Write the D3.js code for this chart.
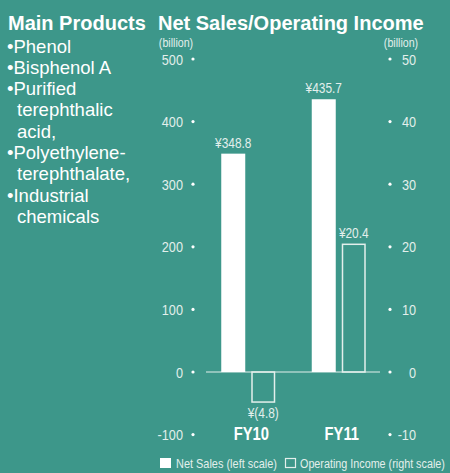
<!DOCTYPE html>
<html>
<head>
<meta charset="utf-8">
<script src="https://cdn.jsdelivr.net/npm/d3@7"></script>
<style>
  body { margin: 0; background: #3d978a; }
  svg { display: block; }
  text { font-family: "Liberation Sans", Arial, Helvetica, sans-serif; }
</style>
</head>
<body>
<svg id="fig" width="450" height="473"></svg>
<script>
// data
var categories = ["FY10", "FY11"];
var netSales = [348.8, 435.7];          // left scale, billion yen
var opIncome = [-4.8, 20.4];            // right scale, billion yen
var salesLabels = ["¥348.8", "¥435.7"];
var incomeLabels = ["¥(4.8)", "¥20.4"];
var leftTicks = [-100, 0, 100, 200, 300, 400, 500];
var rightTicks = [-10, 0, 10, 20, 30, 40, 50];
var products = ["•Phenol", "•Bisphenol A", "•Purified", " terephthalic", " acid,",
                "•Polyethylene-", " terephthalate,", "•Industrial", " chemicals"];

var svg = d3.select("#fig");
var bg = "#3d978a";
var lite = "#e3efec";
var squeeze = 0.82;   // condensed look for the small labels

// place a text at (x,y) squeezed horizontally
function narrowAt(fx, fy) {
    return function (d, i) {
        return `translate(${fx(d, i)},${fy(d, i)}) scale(${squeeze},1)`;
    };
}

svg.append("rect").attr("width", 450).attr("height", 473).attr("fill", bg);

// scales
var yL = d3.scaleLinear().domain([-100, 500]).range([434.6, 59]);
var yR = d3.scaleLinear().domain([-10, 50]).range([434.6, 59]);
var x0 = d3.scaleBand().domain(categories).range([203, 384]);
var x1 = d3.scaleBand().domain(["ns", "oi"]).range([-27, 27]).paddingInner(0.2);
var mid = c => x0(c) + x0.bandwidth() / 2;

// left titles
svg.append("text").attr("x", 8).attr("y", 30)
   .attr("fill", "#fff").attr("font-size", 20).attr("font-weight", "bold")
   .text("Main Products");

svg.selectAll("text.prod")
   .data(products)
   .enter()
   .append("text")
   .attr("class", "prod")
   .attr("x", d => d[0] == " " ? 17 : 7)
   .attr("y", (d, i) => 52.5 + i * 21.3)
   .attr("fill", "#fff")
   .attr("font-size", 18.5)
   .text(d => d.trim());

svg.append("text").attr("x", 158).attr("y", 30)
   .attr("fill", "#fff").attr("font-size", 20).attr("font-weight", "bold")
   .text("Net Sales/Operating Income");

// unit labels
svg.selectAll("text.unit")
   .data([176, 401])
   .enter()
   .append("text")
   .attr("class", "unit")
   .attr("transform", narrowAt(d => d, () => 47))
   .attr("text-anchor", "middle").attr("fill", lite).attr("font-size", 13)
   .text("(billion)");

// left axis: dots + labels
var lg = svg.append("g");
lg.selectAll("circle").data(leftTicks).enter().append("circle")
  .attr("cx", 193).attr("cy", d => yL(d)).attr("r", 1.6).attr("fill", "#fff");
lg.selectAll("text").data(leftTicks).enter().append("text")
  .attr("transform", narrowAt(() => 183, d => yL(d) + 5.5))
  .attr("text-anchor", "end").attr("fill", lite).attr("font-size", 15.5)
  .text(d => d);

// right axis
var rg = svg.append("g");
rg.selectAll("circle").data(rightTicks).enter().append("circle")
  .attr("cx", 390).attr("cy", d => yR(d)).attr("r", 1.6).attr("fill", "#fff");
rg.selectAll("text").data(rightTicks).enter().append("text")
  .attr("transform", narrowAt(() => 416, d => yR(d) + 5.5))
  .attr("text-anchor", "end").attr("fill", lite).attr("font-size", 15.5)
  .text(d => d);

// zero line
svg.append("line")
   .attr("x1", 206).attr("x2", 380)
   .attr("y1", yL(0)).attr("y2", yL(0))
   .attr("stroke", lite).attr("stroke-width", 1.2);

// net sales bars
svg.selectAll("rect.ns")
   .data(netSales)
   .enter()
   .append("rect")
   .attr("class", "ns")
   .attr("x", (d, i) => mid(categories[i]) + x1("ns"))
   .attr("y", d => yL(d))
   .attr("width", x1.bandwidth())
   .attr("height", d => yL(0) - yL(d))
   .attr("fill", "#fff");

// operating income bars (outlined)
svg.selectAll("rect.oi")
   .data(opIncome)
   .enter()
   .append("rect")
   .attr("class", "oi")
   .attr("x", (d, i) => mid(categories[i]) + x1("oi") + 0.75)
   .attr("y", d => Math.min(yR(d), yR(0)))
   .attr("width", x1.bandwidth() - 1.5)
   .attr("height", d => Math.abs(yR(0) - yR(d)))
   .attr("fill", "none")
   .attr("stroke", lite)
   .attr("stroke-width", 1.5);

// value labels
svg.selectAll("text.nsl")
   .data(netSales)
   .enter()
   .append("text")
   .attr("class", "nsl")
   .attr("transform", narrowAt((d, i) => mid(categories[i]) + x1("ns") + x1.bandwidth() / 2,
                               d => yL(d) - 6))
   .attr("text-anchor", "middle").attr("fill", lite).attr("font-size", 14.5)
   .text((d, i) => salesLabels[i]);

svg.selectAll("text.oil")
   .data(opIncome)
   .enter()
   .append("text")
   .attr("class", "oil")
   .attr("transform", narrowAt((d, i) => mid(categories[i]) + x1("oi") + x1.bandwidth() / 2,
                               d => d < 0 ? yR(d) + 16 : yR(d) - 6))
   .attr("text-anchor", "middle").attr("fill", lite).attr("font-size", 14.5)
   .text((d, i) => incomeLabels[i]);

// category labels
svg.selectAll("text.cat")
   .data(categories)
   .enter()
   .append("text")
   .attr("class", "cat")
   .attr("transform", narrowAt(d => mid(d) + 3, () => 440))
   .attr("text-anchor", "middle").attr("fill", "#fff")
   .attr("font-size", 18).attr("font-weight", "bold")
   .text(d => d);

// legend - squeeze each label to the width it has in the original
function fitText(g, x, y, w, str) {
    var t = g.append("text").attr("fill", lite).attr("font-size", 13.5).text(str);
    var s = w / t.node().getComputedTextLength();
    t.attr("transform", `translate(${x},${y}) scale(${s},1)`);
}
var leg = svg.append("g");
leg.append("rect").attr("x", 160).attr("y", 458).attr("width", 11).attr("height", 10).attr("fill", "#fff");
fitText(leg, 176, 467.5, 101, "Net Sales (left scale)");
leg.append("rect").attr("x", 285.5).attr("y", 458.5).attr("width", 10).attr("height", 9)
   .attr("fill", "none").attr("stroke", lite).attr("stroke-width", 1.2);
fitText(leg, 300, 467.5, 145, "Operating Income (right scale)");
</script>
</body>
</html>
